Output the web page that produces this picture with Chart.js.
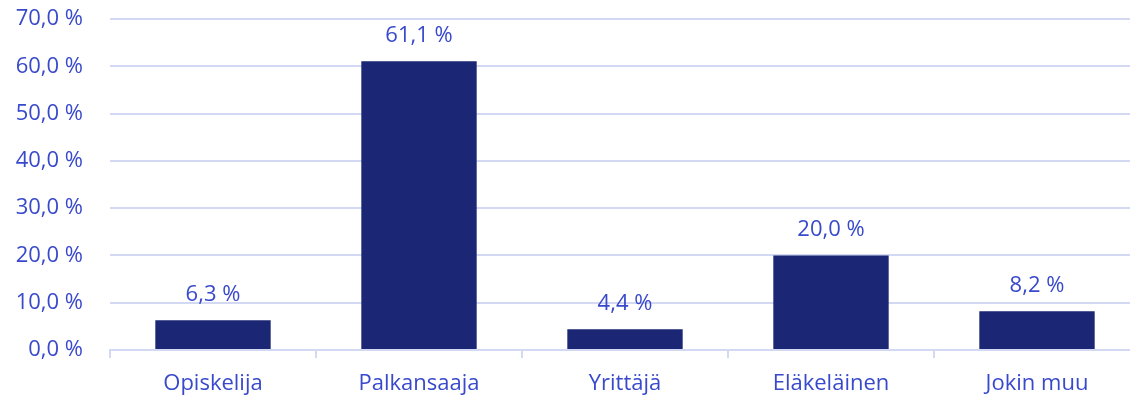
<!DOCTYPE html>
<html>
<head>
<meta charset="utf-8">
<script src="https://cdn.jsdelivr.net/npm/chart.js@4.4.1/dist/chart.umd.min.js"></script>
<style>
    html, body { margin: 0; padding: 0; background: #fff; overflow: hidden; }
    #wrap { width: 1140px; height: 422px; margin-top: -21px; }
</style>
</head>
<body>
<div id="wrap"><canvas id="chart"></canvas></div>
<script>
const CATEGORIES = ['Opiskelija', 'Palkansaaja', 'Yrittäjä', 'Eläkeläinen', 'Jokin muu'];
const SHARES = [6.3, 61.1, 4.4, 20.0, 8.2];

const TEXT_BLUE = '#3849cc';
const BAR_BLUE = '#1b2675';
const GRID = '#d3d9f2';
const FONT = "'Open Sans', 'Noto Sans', sans-serif";

function fmt(v, digits) {
    return v.toFixed(digits).replace('.', ',') + ' %';
}

// étiquettes au-dessus des barres
const barLabels = {
    id: 'barLabels',
    afterDatasetsDraw(chart) {
        const ctx = chart.ctx;
        const meta = chart.getDatasetMeta(0);
        ctx.save();
        ctx.fillStyle = TEXT_BLUE;
        ctx.font = `22px ${FONT}`;
        ctx.textAlign = 'center';
        ctx.textBaseline = 'alphabetic';
        meta.data.forEach((bar, i) => {
            ctx.fillText(fmt(SHARES[i], 1), bar.x, bar.y - 19);
        });
        ctx.restore();
    }
};

new Chart(document.getElementById('chart'), {
    type: 'bar',
    data: {
        labels: CATEGORIES,
        datasets: [{
            data: SHARES,
            backgroundColor: BAR_BLUE,
            categoryPercentage: 0.56,
            barPercentage: 1
        }]
    },
    options: {
        responsive: true,
        maintainAspectRatio: false,
        animation: false,
        layout: { padding: { top: 0, right: 0, left: 0, bottom: 0 } },
        plugins: {
            legend: { display: false },
            tooltip: { enabled: false }
        },
        scales: {
            x: {
                grid: {
                    offset: true,
                    drawOnChartArea: false,
                    drawTicks: true,
                    tickLength: 8,
                    color: GRID,
                    lineWidth: 2
                },
                border: { display: true, color: GRID, width: 2 },
                ticks: {
                    color: TEXT_BLUE,
                    font: { family: FONT, size: 22 },
                    padding: 13
                },
                afterFit(scale) { scale.height = 51; }
            },
            y: {
                min: 0,
                max: 70,
                grid: { color: GRID, lineWidth: 2, drawTicks: false },
                border: { display: false },
                ticks: {
                    stepSize: 10,
                    color: TEXT_BLUE,
                    font: { family: FONT, size: 22 },
                    padding: 27,
                    callback: v => fmt(v, 1)
                },
                afterFit(scale) { scale.width = 110; }
            }
        }
    },
    plugins: [barLabels]
});
</script>
</body>
</html>
